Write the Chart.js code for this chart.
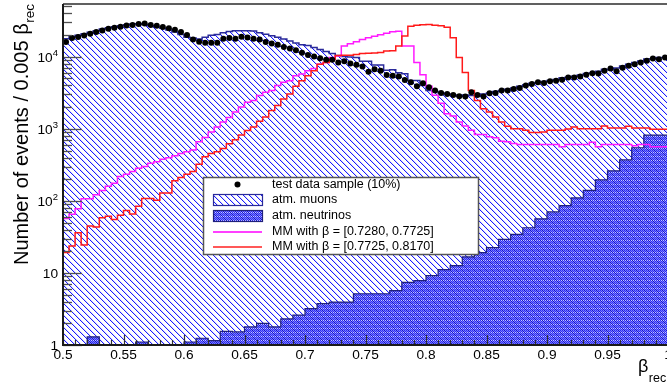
<!DOCTYPE html>
<html><head><meta charset="utf-8">
<script src="https://cdn.jsdelivr.net/npm/chart.js@4/dist/chart.umd.min.js"></script>
<style>
html,body{margin:0;padding:0;overflow:hidden;background:#fff;width:667px;height:390px}
#wrap{width:680px;height:390px}
</style></head>
<body><div id="wrap"><canvas id="c" width="680" height="390"></canvas></div>
<script>
// ---- data (bin contents) ----
const binStart = 0.5;          // first bin low edge
const binWidth = 0.005;        // data / muon / MM binning
const nuBinWidth = 0.01;       // neutrino binning

const dataCounts = [16000,18200,18800,19800,20800,22000,23100,24400,25200,26000,
27100,27700,28600,28900,27700,26900,25800,24900,23700,22000,
20000,17400,16200,15700,15700,15700,17800,18200,17800,19000,
18500,17800,17300,16000,15300,14700,13700,13000,12300,11400,
10600,10100,9530,9060,9060,8320,8670,8060,7740,7330,
6200,6730,6400,5570,5460,5340,4750,4420,3890,4280,
3770,3400,3150,3050,2950,2840,2810,3220,2950,2810,
3120,3150,3400,3400,3570,3690,3980,4190,4420,4320,
4560,4660,4810,5170,5170,5340,5640,5930,5870,6400,
6880,6310,7030,7500,7890,8320,8780,9440,9240,9750];

const muonCounts = [16300,17800,18900,19900,20800,21900,23000,24200,25200,26000,
27000,27800,28500,28700,28000,27000,25900,24800,23600,22000,
20300,18600,18200,17700,18600,19900,20300,21600,22400,23000,
23000,23000,22700,21600,20600,19600,18700,17600,16500,15500,
14700,14300,13500,12600,11800,11100,10400,10100,9900,9800,
8650,8650,7700,7700,6500,6600,6000,5800,4700,4700,
4000,3400,3300,3150,3050,2950,2900,2950,2900,2900,
3050,3150,3300,3400,3550,3700,3900,4100,4300,4400,
4550,4700,4850,5100,5200,5350,5600,5850,5950,6300,
6700,6600,7000,7450,7850,8300,8750,9300,9400,9750];

const nuCounts = [0,0,0,1.3,0,0,0,1.1,0,0,
0,1.1,1.24,1.15,1.55,1.52,1.78,1.99,1.78,2.3,
2.59,3.2,3.75,3.94,3.94,5.14,5.14,5.14,5.7,7.4,
7.8,9.2,11.1,12.6,16.7,19.2,22.5,29.3,34.4,42.4,
56.4,70.3,86,110,140,196,261,370,546,817];

const mmLowCounts = [57,57,65,78,107,107,122,139,159,176,
218,234,255,283,299,332,350,377,398,424,
456,481,508,660,761,907,1062,1244,1435,1708,
2001,2344,2474,2899,3218,3396,3978,4417,4661,5461,
5744,6400,6882,7885,8321,9750,10290,14120,15190,16190,
17400,18370,19260,20210,21180,22220,22570,14120,14120,8321,
5650,3891,2920,2260,1619,1504,1244,1096,953,832,
832,774,750,675,660,626,606,606,606,606,
606,606,606,564,606,606,606,606,650,564,
606,606,606,606,606,582,606,606,564,564];

const mmHighCounts = [23,19.2,23.7,36.2,24.5,44.7,43.3,58.2,61.4,55.3,
63.4,73.5,66,84.3,107.5,107.5,102,128.5,128.5,190,
211,234,255,322,411,456,481,534,620,704,
824,951,1062,1272,1458,1802,2112,2603,3050,3891,
4661,5461,6400,7885,8321,9150,10390,10490,10520,10720,
11070,11170,11240,11430,12060,12170,14120,19390,26610,27290,
27730,27990,27470,26870,25620,18370,9750,6063,3396,2474,
1897,1708,1458,1244,1086,1006,1006,957,887,887,
907,957,957,957,997,1062,1006,1006,1006,1006,
1096,1029,1029,1029,1086,1029,1029,1029,988,988];

const xTickLabels = ['0.5','0.55','0.6','0.65','0.7','0.75','0.8','0.85','0.9','0.95','1'];
const yTickValues = [1,10,100,1000,10000];
const yTickBase   = ['1','10','10','10','10'];
const yTickExp    = ['','','2','3','4'];
const legendLabels = ['test data sample (10%)','atm. muons','atm. neutrinos',
  'MM with \u03b2 = [0.7280, 0.7725]','MM with \u03b2 = [0.7725, 0.8170]'];
const yTitle = 'Number of events / 0.005 ';
const xTitleMain = '\u03b2', titleSub = 'rec';

// ---- helpers ----
function histPoints(counts, start, width){
  // histogram outline: one point per bin low edge plus the last high edge;
  // empty bins are pushed below the log-axis floor (log axes cannot show 0)
  const pts = counts.map((c,i)=>({x: start + i*width, y: c > 0 ? c : 0.5}));
  pts.push({x: start + counts.length*width, y: pts[pts.length-1].y});
  return pts;
}
function centerPoints(counts, start, width){
  return counts.map((c,i)=>({x: start + (i+0.5)*width, y: c}));
}

const canvas = document.getElementById('c');
const ctx0 = canvas.getContext('2d');

function makeHatch(){
  const c = document.createElement('canvas'); c.width = 6; c.height = 6;
  const g = c.getContext('2d');
  for (let i=0;i<6;i++){
    g.fillStyle = '#1a1aff'; g.fillRect(i,i,1,1);
    g.fillStyle = 'rgba(40,40,255,0.18)'; g.fillRect((i+1)%6,i,1,1);
  }
  return ctx0.createPattern(c,'repeat');
}
function makeCross(){
  const c = document.createElement('canvas'); c.width = 12; c.height = 12;
  const g = c.getContext('2d');
  for (let yy=0; yy<12; yy++) for (let xx=0; xx<12; xx++){
    let col = ((xx+yy)%2===0) ? '#3030f2' : '#7a7aff';
    if (yy%4===0 && xx%2===1) col = '#c4c4ff';
    if ((xx%6)===(yy%6)) col = '#1414c8';
    g.fillStyle = col; g.fillRect(xx,yy,1,1);
  }
  return ctx0.createPattern(c,'repeat');
}
const hatch = makeHatch();
const cross = makeCross();

const FONT = ' "Liberation Sans", Arial, Helvetica, sans-serif';
const f = s => s + 'px' + FONT;

const framePlugin = {
  id: 'frame',
  afterDraw(chart){
    const {ctx, chartArea: a, scales: {x, y}} = chart;
    ctx.save();
    // y ticks
    ctx.strokeStyle = '#505050'; ctx.lineWidth = 1.3;
    for (let k=0; k<5; k++) for (let m=1; m<10; m++){
      const v = m*Math.pow(10,k); if (v > y.max) break;
      const py = Math.round(y.getPixelForValue(v)) + 0.5;
      const len = m===1 ? 19 : 9;
      ctx.beginPath(); ctx.moveTo(a.left, py); ctx.lineTo(a.left+len, py); ctx.stroke();
    }
    // x ticks (every 0.01, labelled every 0.05)
    ctx.strokeStyle = '#303030'; ctx.lineWidth = 1.2;
    for (let j=0; j<=50; j++){
      const px = Math.round(x.getPixelForValue(x.min + j*0.01)) + 0.5;
      const len = j%5===0 ? 10 : 5;
      ctx.beginPath(); ctx.moveTo(px, a.bottom); ctx.lineTo(px, a.bottom-len); ctx.stroke();
    }
    // frame
    ctx.strokeStyle = '#606060'; ctx.lineWidth = 2;
    ctx.beginPath(); ctx.moveTo(a.left, a.top); ctx.lineTo(a.right+5, a.top); ctx.stroke();
    ctx.strokeStyle = '#1a1a1a';
    ctx.beginPath(); ctx.moveTo(a.left, a.top); ctx.lineTo(a.left, a.bottom); ctx.lineTo(a.right+5, a.bottom); ctx.stroke();

    // x labels
    ctx.fillStyle = '#000'; ctx.font = f(13.7); ctx.textAlign = 'center'; ctx.textBaseline = 'alphabetic';
    xTickLabels.forEach(t => ctx.fillText(t, x.getPixelForValue(parseFloat(t)), 359));
    // y labels
    yTickValues.forEach((v,i) => {
      const py = y.getPixelForValue(v);
      let right = a.left - 5;
      if (yTickExp[i]){
        ctx.font = f(9.5);
        const w = ctx.measureText(yTickExp[i]).width;
        ctx.textAlign = 'left';
        ctx.fillText(yTickExp[i], right - w, py - 1);
        right -= w;
      }
      ctx.font = f(13.7); ctx.textAlign = 'right';
      ctx.fillText(yTickBase[i], right, py + 5);
    });
    // x title
    ctx.textAlign = 'left';
    ctx.font = f(18);
    ctx.fillText(xTitleMain, 638, 372);
    const bw = ctx.measureText(xTitleMain).width;
    ctx.font = f(12.5);
    ctx.fillText(titleSub, 638 + bw + 0.5, 382);
    // y title
    ctx.save();
    ctx.translate(27.5, 265); ctx.rotate(-Math.PI/2);
    ctx.font = f(20);
    ctx.fillText(yTitle, 0, 0);
    const w1 = ctx.measureText(yTitle).width;
    ctx.fillText(xTitleMain, w1, 0);
    const w2 = ctx.measureText(xTitleMain).width;
    ctx.font = f(13.5);
    ctx.fillText(titleSub, w1 + w2 + 0.5, 6);
    ctx.restore();

    // legend
    const L = 203, T = 177, W = 276, H = 78;
    ctx.fillStyle = '#fff'; ctx.fillRect(L, T, W, H);
    ctx.strokeStyle = '#555'; ctx.lineWidth = 1.5; ctx.strokeRect(L+0.5, T+0.5, W-1, H-1);
    const rows = [184.5, 200, 216, 232, 247];
    const sx = 213, sw = 49;
    ctx.fillStyle = '#000'; ctx.beginPath(); ctx.arc(sx + sw/2, rows[0], 3, 0, 2*Math.PI); ctx.fill();
    ctx.fillStyle = hatch; ctx.fillRect(sx, rows[1]-6, sw, 12);
    ctx.strokeStyle = '#2a2a9a'; ctx.lineWidth = 1.2; ctx.strokeRect(sx+0.5, rows[1]-5.5, sw, 11);
    ctx.fillStyle = cross; ctx.fillRect(sx, rows[2]-6, sw, 12);
    ctx.strokeStyle = '#20207a'; ctx.strokeRect(sx+0.5, rows[2]-5.5, sw, 11);
    ctx.lineWidth = 1.5;
    ctx.strokeStyle = '#ff00ff'; ctx.beginPath(); ctx.moveTo(sx, rows[3]); ctx.lineTo(sx+sw, rows[3]); ctx.stroke();
    ctx.strokeStyle = '#ff2020'; ctx.beginPath(); ctx.moveTo(sx, rows[4]); ctx.lineTo(sx+sw, rows[4]); ctx.stroke();
    ctx.fillStyle = '#000'; ctx.font = f(12.5); ctx.textAlign = 'left'; ctx.textBaseline = 'middle';
    legendLabels.forEach((t,i) => ctx.fillText(t, 272, rows[i]));
    ctx.restore();
  }
};

new Chart(canvas, {
  type: 'line',
  data: {
    datasets: [
      { label: legendLabels[0], data: centerPoints(dataCounts, binStart, binWidth),
        showLine: false, pointRadius: 3, pointBackgroundColor: '#000', pointBorderWidth: 0, order: 0 },
      { label: legendLabels[4], data: histPoints(mmHighCounts, binStart, binWidth), stepped: 'after',
        borderColor: '#ff1a1a', borderWidth: 1.5, pointRadius: 0, fill: false, order: 1 },
      { label: legendLabels[3], data: histPoints(mmLowCounts, binStart, binWidth), stepped: 'after',
        borderColor: '#ff1aff', borderWidth: 1.5, pointRadius: 0, fill: false, order: 2 },
      { label: legendLabels[2], data: histPoints(nuCounts, binStart, nuBinWidth), stepped: 'after',
        borderColor: '#20207a', borderWidth: 1.2, backgroundColor: cross, pointRadius: 0, fill: 'start', order: 3 },
      { label: legendLabels[1], data: histPoints(muonCounts, binStart, binWidth), stepped: 'after',
        borderColor: '#2a2a9a', borderWidth: 1.5, backgroundColor: hatch, pointRadius: 0, fill: 'start', order: 4 }
    ]
  },
  options: {
    responsive: false, animation: false, devicePixelRatio: 1,
    layout: { padding: { left: 63, top: 1, right: 12, bottom: 45 } },
    plugins: { legend: { display: false }, tooltip: { enabled: false } },
    scales: {
      x: { type: 'linear', min: 0.5, max: 1.0, display: false },
      y: { type: 'logarithmic', min: 1, max: 54000, display: false }
    }
  },
  plugins: [framePlugin]
});
</script>
</body></html>
